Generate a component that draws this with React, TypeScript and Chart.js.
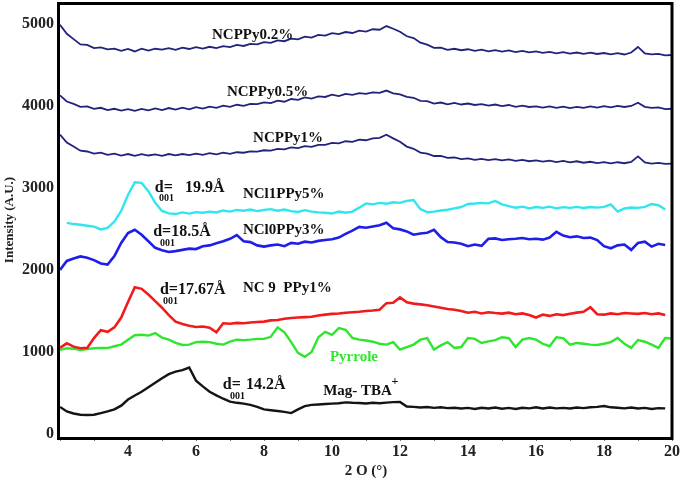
import React, { useEffect, useRef } from "react";
import { Chart, registerables } from "chart.js";

Chart.register(...registerables);

// 2θ positions (degrees)
const twoTheta = [
  2.0, 2.2, 2.4, 2.6, 2.8, 3.0, 3.2, 3.4, 3.6, 3.8,
  4.0, 4.2, 4.4, 4.6, 4.8, 5.0, 5.2, 5.4, 5.6, 5.8,
  6.0, 6.2, 6.4, 6.6, 6.8, 7.0, 7.2, 7.4, 7.6, 7.8,
  8.0, 8.2, 8.4, 8.6, 8.8, 9.0, 9.2, 9.4, 9.6, 9.8,
  10.0, 10.2, 10.4, 10.6, 10.8, 11.0, 11.2, 11.4, 11.6, 11.8,
  12.0, 12.2, 12.4, 12.6, 12.8, 13.0, 13.2, 13.4, 13.6, 13.8,
  14.0, 14.2, 14.4, 14.6, 14.8, 15.0, 15.2, 15.4, 15.6, 15.8,
  16.0, 16.2, 16.4, 16.6, 16.8, 17.0, 17.2, 17.4, 17.6, 17.8,
  18.0, 18.2, 18.4, 18.6, 18.8, 19.0, 19.2, 19.4, 19.6, 19.8,
  20.0,
];

const ncppy02 = [
  4990, 4880, 4815, 4750, 4745, 4705, 4715, 4690, 4700, 4672,
  4695, 4665, 4700, 4675, 4698, 4688, 4706, 4684, 4712, 4695,
  4718, 4700, 4722, 4706, 4730, 4718, 4745, 4732, 4758, 4752,
  4778, 4770, 4800, 4790, 4822, 4812, 4846, 4835, 4866, 4858,
  4888, 4876, 4902, 4890, 4918, 4908, 4936, 4930, 4975, 4942,
  4905, 4850, 4828, 4772, 4748, 4708, 4712, 4684, 4698, 4680,
  4692, 4672, 4688, 4666, 4680, 4662, 4678, 4658, 4672, 4655,
  4666, 4648, 4660, 4642, 4656, 4638, 4652, 4636, 4650, 4634,
  4646, 4630, 4644, 4628, 4652, 4720, 4640, 4630, 4636, 4618,
  4622,
];

const ncppy05 = [
  4130, 4055, 4025, 3990, 3995, 3965, 3978, 3950, 3966, 3944,
  3962, 3940, 3965, 3946, 3970, 3950, 3975, 3955, 3980, 3960,
  3985, 3968, 3992, 3978, 4005, 3990, 4015, 4002, 4025, 4022,
  4045, 4035, 4065, 4052, 4085, 4075, 4105, 4090, 4118, 4110,
  4138, 4120, 4148, 4136, 4156, 4148, 4166, 4160, 4188, 4155,
  4142, 4112, 4100, 4062, 4060, 4030, 4042, 4020, 4038, 4018,
  4030, 4012, 4022, 4004, 4018, 3998, 4012, 3990, 4004, 3988,
  3996, 3980, 3994, 3976, 3992, 3974, 3990, 3976, 3994, 3980,
  3998, 3984, 4002, 3988, 4000, 4040, 3990, 3978, 3982, 3962,
  3966,
];

const ncppy1 = [
  3650, 3555, 3505, 3455, 3445, 3420, 3432, 3405, 3418, 3396,
  3414, 3392, 3412, 3396, 3410, 3392, 3414, 3398, 3414, 3402,
  3420, 3405, 3424, 3410, 3430, 3416, 3436, 3430, 3446, 3444,
  3460, 3456, 3476, 3470, 3494, 3486, 3510, 3502, 3526, 3526,
  3550, 3545, 3570, 3562, 3590, 3582, 3604, 3612, 3650, 3605,
  3565, 3505, 3478, 3432, 3420, 3390, 3392, 3368, 3372, 3352,
  3362, 3344, 3356, 3340, 3352, 3336, 3348, 3330, 3342, 3326,
  3336, 3322, 3334, 3316, 3330, 3312, 3326, 3308, 3320, 3304,
  3316, 3300, 3314, 3302, 3318, 3385, 3312, 3298, 3306, 3294,
  3296,
];

const ncl1ppy5 = [
  null, 2575, 2560, 2552, 2540, 2528, 2495, 2512, 2590, 2720,
  2915, 3070, 3062, 2960, 2820, 2720, 2690, 2682, 2702, 2688,
  2706, 2698, 2712, 2702, 2726, 2712, 2732, 2722, 2738, 2718,
  2732, 2742, 2722, 2738, 2718, 2708, 2730, 2712, 2702, 2698,
  2688, 2712, 2698, 2712, 2760, 2812, 2800, 2818, 2808, 2826,
  2818, 2842, 2852, 2742, 2705, 2712, 2725, 2735, 2752, 2768,
  2805, 2810, 2818, 2812, 2842, 2800, 2778, 2760, 2772, 2752,
  2768, 2758, 2772, 2752, 2766, 2758, 2770, 2756, 2768, 2760,
  2770, 2800, 2712, 2750, 2762, 2758, 2770, 2805, 2790, 2738,
  null,
];

const ncl0ppy3 = [
  2000, 2110, 2140, 2165, 2150, 2120, 2080, 2065, 2170, 2330,
  2450, 2490, 2430, 2350, 2270, 2240, 2220, 2230, 2245, 2260,
  2255, 2290, 2300, 2325, 2350, 2380, 2425, 2350, 2340, 2300,
  2285, 2300, 2310, 2290, 2330, 2320, 2345, 2335, 2355, 2365,
  2375, 2395, 2440, 2480, 2525, 2515, 2530, 2545, 2575, 2510,
  2495, 2470, 2430, 2445, 2455, 2490, 2400, 2340, 2335, 2320,
  2290, 2310, 2295, 2380, 2385, 2365, 2375, 2380, 2390, 2375,
  2380, 2370, 2395, 2465, 2420, 2400, 2410, 2390, 2395, 2365,
  2290, 2265, 2300, 2310, 2245, 2330, 2345, 2285, 2320, 2305,
  null,
];

const nc9ppy1 = [
  1050, 1105, 1065, 1045, 1050, 1170, 1265, 1245, 1300, 1420,
  1610, 1790, 1770, 1700, 1620, 1540, 1450, 1370, 1340, 1320,
  1305, 1310, 1295, 1240, 1350, 1345, 1355, 1350, 1360, 1365,
  1370, 1385, 1390, 1405, 1415, 1420, 1425, 1430, 1445, 1455,
  1465, 1470, 1478, 1485, 1490, 1500, 1505, 1515, 1595, 1600,
  1665, 1605, 1590, 1580, 1570, 1555, 1540, 1525, 1515, 1500,
  1478, 1490, 1470, 1485, 1475, 1468, 1480, 1460, 1470, 1450,
  1420, 1455, 1440, 1460, 1450, 1465, 1480, 1490, 1545, 1460,
  1455, 1470, 1460, 1475, 1470, 1465, 1475, 1460, 1470, 1450,
  null,
];

const pyrrole = [
  1025, 1045, 1040, 1025, 1035, 1045, 1050, 1048, 1070, 1090,
  1150, 1205, 1210, 1200, 1230, 1175, 1150, 1110, 1085, 1090,
  1120, 1125, 1120, 1100, 1090, 1125, 1150, 1145, 1150, 1160,
  1160, 1185, 1300, 1240, 1120, 990, 940, 1000, 1180, 1245,
  1210, 1290, 1270, 1170, 1150, 1140, 1125, 1100, 1090, 1120,
  1030, 1060, 1090, 1150, 1170, 1030, 1080, 1120, 1050, 1060,
  1170, 1160, 1110, 1130, 1145, 1180, 1170, 1060, 1150, 1170,
  1150, 1100, 1070, 1180, 1170, 1090, 1110, 1100, 1090, 1085,
  1100, 1120, 1170, 1100, 1050, 1145, 1125, 1090, 1050, 1170,
  1165,
];

const magTBA = [
  330, 275, 250, 235, 232, 235, 255, 275, 300, 345,
  420, 470, 515, 570, 625, 680, 730, 760, 778, 810,
  650, 580, 515, 470, 430, 395, 380, 370, 355, 330,
  300, 290, 280, 270, 255, 300, 340, 355, 360, 365,
  370, 375, 385, 380, 378, 372, 380, 375, 382, 388,
  390, 335, 330, 322, 328, 318, 325, 315, 320, 310,
  318, 305, 320, 310, 322, 308, 318, 305, 320, 312,
  325, 310, 322, 312, 318, 310, 322, 315, 325, 330,
  340, 325, 320, 312, 322, 310, 318, 305, 315, 312,
  null,
];

const seriesNames = [
  "NCPPy0.2%",
  "NCPPy0.5%",
  "NCPPy1%",
  "NCl1PPy5%",
  "NCl0PPy3%",
  "NC9PPy1%",
  "Pyrrole",
  "Mag-TBA+",
];
const seriesValues = [ncppy02, ncppy05, ncppy1, ncl1ppy5, ncl0ppy3, nc9ppy1, pyrrole, magTBA];
const seriesColors = ["#22227c", "#22227c", "#22227c", "#30e6ee", "#1e1ee8", "#f21a1a", "#2ee62e", "#141414"];
const seriesWidths = [1.8, 1.8, 1.8, 2.4, 2.6, 2.6, 2.4, 2.4];

const yTicks = [0, 1000, 2000, 3000, 4000, 5000];
const xTickLabels = [4, 6, 8, 10, 12, 14, 16, 18, 20];

const SERIF = '"Liberation Serif", "Times New Roman", serif';

// text annotations anchored in data coordinates (2θ, intensity)
const annotations = [
  { text: "NCPPy0.2%", x: 6.47, y: 4817, size: 15, color: "#111" },
  { text: "NCPPy0.5%", x: 6.91, y: 4122, size: 15, color: "#111" },
  { text: "NCPPy1%", x: 7.68, y: 3561, size: 15, color: "#111" },
  { text: "NCl1PPy5%", x: 7.38, y: 2878, size: 15, color: "#111" },
  { text: "NCl0PPy3%", x: 7.38, y: 2439, size: 15, color: "#111" },
  { text: "NC 9  PPy1%", x: 7.38, y: 1732, size: 15, color: "#111" },
  { text: "Pyrrole", x: 9.94, y: 890, size: 15, color: "#2ee62e" },
  { text: "Mag- TBA", x: 9.74, y: 476, size: 15, color: "#111" },
  { text: "+", x: 11.75, y: 600, size: 12, color: "#111" },
  { text: "d=", x: 4.79, y: 2951, size: 16, color: "#111" },
  { text: "19.9Å", x: 5.68, y: 2951, size: 16, color: "#111" },
  { text: "001", x: 4.91, y: 2841, size: 10, color: "#111" },
  { text: "d=18.5Å", x: 4.74, y: 2415, size: 16, color: "#111" },
  { text: "001", x: 4.94, y: 2293, size: 10, color: "#111" },
  { text: "d=17.67Å", x: 4.94, y: 1707, size: 16, color: "#111" },
  { text: "001", x: 5.03, y: 1585, size: 10, color: "#111" },
  { text: "d=", x: 6.79, y: 549, size: 16, color: "#111" },
  { text: "14.2Å", x: 7.47, y: 549, size: 16, color: "#111" },
  { text: "001", x: 7.0, y: 427, size: 10, color: "#111" },
];

const decorPlugin = {
  id: "xrdDecor",
  afterDatasetsDraw(chart: any) {
    const { ctx, chartArea, scales } = chart;
    const xs = scales.x;
    const ys = scales.y;
    ctx.save();
    ctx.textAlign = "left";
    ctx.textBaseline = "alphabetic";
    for (const a of annotations) {
      ctx.font = `bold ${a.size}px ${SERIF}`;
      ctx.fillStyle = a.color;
      ctx.fillText(a.text, xs.getPixelForValue(a.x), ys.getPixelForValue(a.y));
    }
    ctx.strokeStyle = "#000";
    ctx.lineWidth = 3;
    ctx.strokeRect(chartArea.left - 1.5, chartArea.top + 0.5, chartArea.right - chartArea.left + 1.5, chartArea.bottom - chartArea.top + 1);
    ctx.restore();
  },
};

export default function App() {
  const ref = useRef<HTMLCanvasElement>(null);

  useEffect(() => {
    document.body.style.margin = "0";
    const canvas = ref.current;
    if (!canvas) return;
    const datasets = seriesNames.map((name, i) => ({
      label: name,
      data: twoTheta.map((t, j) => ({ x: t, y: seriesValues[i][j] })),
      borderColor: seriesColors[i],
      backgroundColor: seriesColors[i],
      borderWidth: seriesWidths[i],
      pointRadius: 0,
      tension: 0,
      fill: false,
      spanGaps: false,
    }));
    const chart = new Chart(canvas, {
      type: "line",
      data: { datasets },
      plugins: [decorPlugin],
      options: {
        animation: false,
        responsive: false,
        devicePixelRatio: 1,
        layout: { padding: { top: 3, right: 13, left: 0, bottom: 0 } },
        plugins: { legend: { display: false }, tooltip: { enabled: false } },
        scales: {
          x: {
            type: "linear",
            min: 2,
            max: 20,
            afterFit: (s: any) => {
              s.height = 46;
              s.paddingLeft = 0;
              s.paddingRight = 0;
            },
            ticks: {
              stepSize: 1,
              autoSkip: false,
              maxRotation: 0,
              padding: 1,
              color: "#222",
              font: { family: SERIF, size: 16, weight: "bold" },
              callback: (v: any) => (xTickLabels.includes(Number(v)) ? String(v) : ""),
            },
            grid: { drawOnChartArea: false, drawTicks: true, tickLength: 4, color: "#777", lineWidth: 1 },
            border: { display: false },
            title: {
              display: true,
              text: "2 O (°)",
              color: "#222",
              font: { family: SERIF, size: 15, weight: "bold" },
              padding: { top: 0, bottom: 3 },
            },
          },
          y: {
            type: "linear",
            min: -37,
            max: 5256,
            afterFit: (s: any) => {
              s.width = 60;
              s.paddingTop = 0;
              s.paddingBottom = 0;
            },
            afterBuildTicks: (s: any) => {
              s.ticks = yTicks.map((v) => ({ value: v }));
            },
            ticks: {
              includeBounds: false,
              padding: 6,
              color: "#222",
              font: { family: SERIF, size: 16, weight: "bold" },
              callback: (v: any) => String(v),
            },
            grid: { display: false, drawTicks: false },
            border: { display: false },
            title: {
              display: true,
              text: "Intensity (A.U.)",
              color: "#222",
              font: { family: SERIF, size: 13, weight: "bold" },
              padding: { top: 2, bottom: 0 },
            },
          },
        },
      },
    } as any);
    return () => chart.destroy();
  }, []);

  return (
    <div style={{ width: 685, height: 483, position: "relative" }}>
      <canvas ref={ref} width={685} height={483} style={{ display: "block" }} />
    </div>
  );
}
